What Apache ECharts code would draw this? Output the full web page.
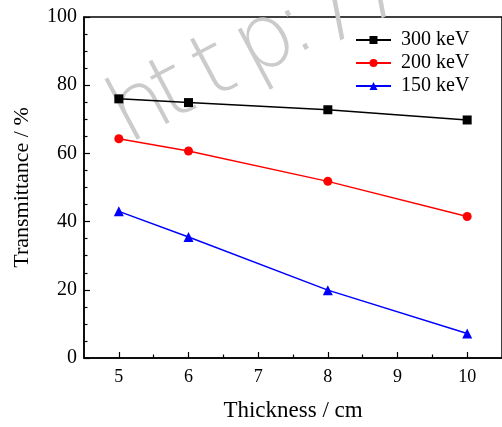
<!DOCTYPE html>
<html>
<head>
<meta charset="utf-8">
<script src="https://cdn.jsdelivr.net/npm/echarts@6/dist/echarts.min.js"></script>
<style>
    html, body { margin: 0; padding: 0; background: #fff; }
    #chart { width: 502px; height: 427px; }
</style>
</head>
<body>
<div id="chart"></div>
<script>
    // thickness in cm, transmittance in %
    var thickness = [5, 6, 8, 10];
    var kev300 = [76.0, 74.9, 72.8, 69.8];
    var kev200 = [64.3, 60.7, 51.8, 41.5];
    var kev150 = [43.0, 35.5, 19.9, 7.2];
    var seriesNames = ['300 keV', '200 keV', '150 keV'];
    var xMajor = [5, 6, 7, 8, 9, 10];
    var xMinor = [5.5, 6.5, 7.5, 8.5, 9.5];

    function pairs(ys) {
        var out = [];
        for (var i = 0; i < thickness.length; i++) out.push([thickness[i], ys[i]]);
        return out;
    }

    // watermark of the source page, one glyph per fixed-width cell
    var markChars = 'http://'.split('');
    var markGlyphs = markChars.map(function (ch, i) {
        return {
            type: 'text',
            x: i * 47, y: 21,
            style: {
                text: ch,
                fill: '#cbcbcb',
                font: '200 90px "DejaVu Sans"',
                verticalAlign: 'bottom'
            }
        };
    });

    var serif = 'Liberation Serif';
    var chart = echarts.init(document.getElementById('chart'));

    var option = {
        backgroundColor: '#fff',
        animation: false,
        grid: {
            left: 84, top: 17, width: 421, height: 342,
            show: true, borderColor: '#000', borderWidth: 1.5
        },
        graphic: [
            {
                type: 'group',
                x: 128, y: 145,
                rotation: 0.49,
                z: 0,
                children: markGlyphs
            }
        ],
        legend: {
            left: 355, top: 30, padding: 0,
            orient: 'vertical',
            itemWidth: 35, itemHeight: 10, itemGap: 3,
            textStyle: { fontFamily: serif, fontSize: 20, color: '#000', padding: [0, 0, 0, 5] },
            data: seriesNames
        },
        xAxis: [
            {
                type: 'value', min: 4.5, max: 10.5,
                name: 'Thickness / cm',
                nameLocation: 'middle', nameGap: 41,
                nameTextStyle: { fontFamily: serif, fontSize: 23, color: '#000' },
                axisLine: { onZero: false, lineStyle: { color: '#000', width: 1.5 } },
                axisTick: { inside: true, length: 6, customValues: xMajor, lineStyle: { color: '#000', width: 1.2 } },
                axisLabel: { customValues: xMajor, margin: 10, fontFamily: serif, fontSize: 18, color: '#000' },
                splitLine: { show: false }
            },
            {
                type: 'value', min: 4.5, max: 10.5, position: 'bottom',
                axisLine: { show: false, onZero: false },
                axisTick: { inside: true, length: 3.5, customValues: xMinor, lineStyle: { color: '#000', width: 1.2 } },
                axisLabel: { show: false },
                splitLine: { show: false }
            }
        ],
        yAxis: {
            type: 'value', min: 0, max: 100, interval: 20,
            name: 'Transmittance / %',
            nameLocation: 'middle', nameGap: 51,
            nameTextStyle: { fontFamily: serif, fontSize: 22, color: '#000' },
            axisLine: { show: true, lineStyle: { color: '#000', width: 1.5 } },
            axisTick: { inside: true, length: 6, lineStyle: { color: '#000', width: 1.2 } },
            minorTick: { show: true, splitNumber: 4, length: 3.5, lineStyle: { color: '#000', width: 1.2 } },
            axisLabel: { margin: 7, fontFamily: serif, fontSize: 20, color: '#000' },
            splitLine: { show: false }
        },
        series: [
            {
                name: seriesNames[0], type: 'line', data: pairs(kev300),
                symbol: 'rect', symbolSize: 9,
                lineStyle: { color: '#000', width: 1.5 }, itemStyle: { color: '#000' }
            },
            {
                name: seriesNames[1], type: 'line', data: pairs(kev200),
                symbol: 'circle', symbolSize: 9,
                lineStyle: { color: '#f00', width: 1.5 }, itemStyle: { color: '#f00' }
            },
            {
                name: seriesNames[2], type: 'line', data: pairs(kev150),
                symbol: 'triangle', symbolSize: 10,
                lineStyle: { color: '#00f', width: 1.5 }, itemStyle: { color: '#00f' }
            }
        ]
    };
    chart.setOption(option);
</script>
</body>
</html>
